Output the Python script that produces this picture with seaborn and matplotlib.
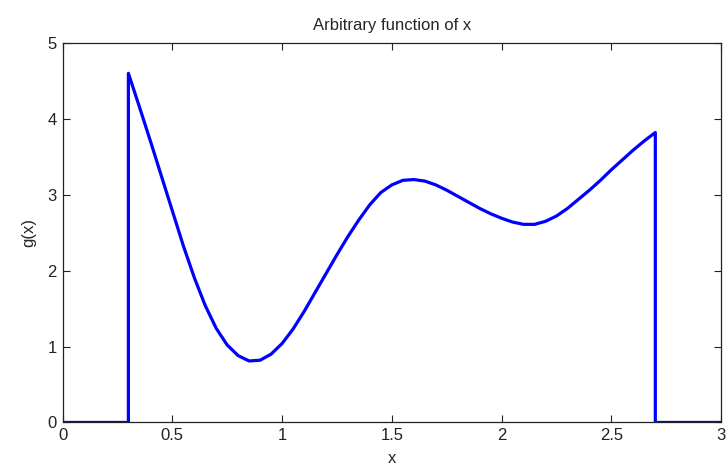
import numpy as np
import pandas as pd
import matplotlib
matplotlib.use('Agg')
import matplotlib.pyplot as plt
import seaborn as sns

# values
x_vals = [0.00, 0.30, 0.30, 0.35, 0.40, 0.45, 0.50, 0.55, 0.60, 0.65,
          0.70, 0.75, 0.80, 0.85, 0.90, 0.95, 1.00, 1.05, 1.10, 1.15,
          1.20, 1.25, 1.30, 1.35, 1.40, 1.45, 1.50, 1.55, 1.60, 1.65,
          1.70, 1.75, 1.80, 1.85, 1.90, 1.95, 2.00, 2.05, 2.10, 2.15,
          2.20, 2.25, 2.30, 2.35, 2.40, 2.45, 2.50, 2.55, 2.60, 2.65,
          2.70, 2.70, 3.00]
g_vals = [0.00, 0.00, 4.60, 4.16, 3.71, 3.25, 2.79, 2.33, 1.91, 1.54,
          1.24, 1.02, 0.88, 0.81, 0.82, 0.90, 1.04, 1.23, 1.46, 1.71,
          1.96, 2.21, 2.45, 2.67, 2.87, 3.03, 3.13, 3.19, 3.20, 3.18,
          3.13, 3.06, 2.98, 2.90, 2.82, 2.75, 2.69, 2.64, 2.61, 2.61,
          2.65, 2.72, 2.82, 2.94, 3.06, 3.19, 3.33, 3.46, 3.59, 3.71,
          3.82, 0.00, 0.00]

x_ticks = [0, 0.5, 1, 1.5, 2, 2.5, 3]
y_ticks = [0, 1, 2, 3, 4, 5]

df = pd.DataFrame({'x': x_vals, 'g': g_vals})

sns.set_style('ticks')
plt.rcParams['font.family'] = ['Liberation Sans Narrow', 'Liberation Sans', 'DejaVu Sans']
plt.rcParams['xtick.direction'] = 'in'
plt.rcParams['ytick.direction'] = 'in'

fig = plt.figure(figsize=(7.27, 4.72), dpi=100)
ax = fig.add_axes([0.086, 0.105, 0.906, 0.804])

sns.lineplot(data=df, x='x', y='g', ax=ax, sort=False, estimator=None,
             color='#0000ff', linewidth=2.3)

ax.set_xlim(0, 3)
ax.set_ylim(0, 5)
ax.set_xticks(x_ticks)
ax.set_xticklabels(['0', '0.5', '1', '1.5', '2', '2.5', '3'])
ax.set_yticks(y_ticks)
ax.tick_params(top=True, right=True, length=5, width=0.8,
               labelsize=12, colors='#222222', pad=4)
for s in ax.spines.values():
    s.set_linewidth(0.9)
    s.set_color('#222222')

ax.set_title('Arbitrary function of x', fontsize=12, pad=9)
ax.set_xlabel('x', fontsize=12, labelpad=6)
ax.set_ylabel('g(x)', fontsize=12, labelpad=8)

fig.savefig('out.png', dpi=100)
